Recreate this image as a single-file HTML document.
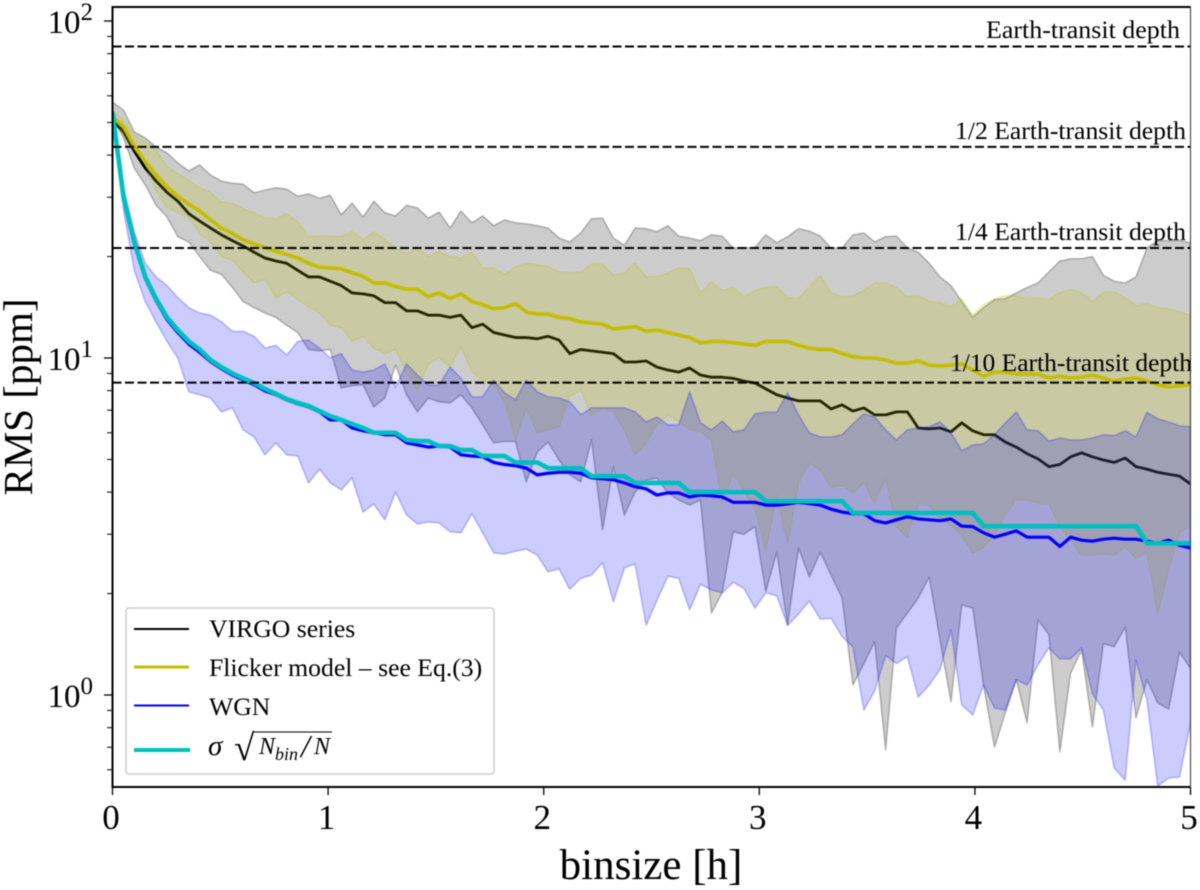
<!DOCTYPE html>
<html lang="en">
<head>
<meta charset="utf-8">
<title>RMS versus bin size</title>
<style>
  html, body { margin: 0; padding: 0; background: #fff; }
  body { width: 1200px; height: 890px; overflow: hidden; }
  svg { display: block; filter: blur(0.45px); }
  text { font-family: "Liberation Serif", "DejaVu Serif", serif; fill: #000; }
</style>
</head>
<body>
<svg id="chart" xmlns="http://www.w3.org/2000/svg" width="1200" height="890" viewBox="0 0 1200 890">
  <defs>
    <clipPath id="plot-clip"><rect x="112.5" y="7" width="1078" height="780"></rect></clipPath>
  </defs>
  <rect x="0" y="0" width="1200" height="890" fill="#fff"></rect>
  <g id="plot" clip-path="url(#plot-clip)"></g>
  <g id="refs"></g>

  <text x="986" y="38" font-size="25.3" textLength="194" lengthAdjust="spacingAndGlyphs">Earth-transit depth</text>
  <text x="955" y="139" font-size="25.3" textLength="231" lengthAdjust="spacingAndGlyphs">1/2 Earth-transit depth</text>
  <text x="955" y="240" font-size="25.3" textLength="231" lengthAdjust="spacingAndGlyphs">1/4 Earth-transit depth</text>
  <text x="950" y="371" font-size="25.3" textLength="242" lengthAdjust="spacingAndGlyphs">1/10 Earth-transit depth</text>

  <g id="axes"></g>
  <rect x="111.5" y="6" width="1079.5" height="2" fill="#000"></rect>
  <rect x="111.5" y="786" width="1079.5" height="2" fill="#000"></rect>
  <rect x="111.5" y="6" width="2" height="782" fill="#000"></rect>
  <rect x="1190" y="6" width="1" height="782" fill="#333"></rect>

  <text transform="translate(32,397) rotate(-90)" text-anchor="middle" font-size="41">RMS [ppm]</text>
  <text x="651" y="879" text-anchor="middle" font-size="43">binsize [h]</text>

  <g>
    <rect x="126" y="608" width="368" height="166" rx="3" ry="3" fill="#fff" fill-opacity="0.85" stroke="#ccc" stroke-width="1.5"></rect>
    <line x1="134" x2="189" y1="629" y2="629" stroke="#000" stroke-width="2"></line>
    <text x="209" y="637" font-size="25.7">VIRGO series</text>
    <line x1="134" x2="189" y1="667" y2="667" stroke="#bfbf00" stroke-width="3"></line>
    <text x="209" y="676" font-size="25.7">Flicker model – see Eq.(3)</text>
    <line x1="134" x2="189" y1="705.5" y2="705.5" stroke="#0000ff" stroke-width="2"></line>
    <text x="209" y="715" font-size="25.7">WGN</text>
    <line x1="134" x2="190" y1="750" y2="750" stroke="#00bfbf" stroke-width="4"></line>
    <text x="208" y="755" font-size="29" font-style="italic">σ</text>
    <text x="234" y="760" font-size="37">√</text>
    <line x1="254" x2="332" y1="732" y2="732" stroke="#000" stroke-width="1"></line>
    <text y="754" font-size="24" font-style="italic"><tspan x="259">N</tspan><tspan x="275" y="760" font-size="18">bin</tspan><tspan x="301" y="757" font-size="32">/</tspan><tspan x="314" y="754">N</tspan></text>
  </g>
</svg>

<script>
const binHours = [0,0.051,0.101,0.152,0.202,0.253,0.303,0.354,0.404,0.455,0.505,0.556,0.606,0.657,0.707,0.758,0.808,0.859,0.909,0.960,1.010,1.061,1.111,1.162,1.212,1.263,1.313,1.364,1.414,1.465,1.515,1.566,1.616,1.667,1.717,1.768,1.818,1.869,1.919,1.970,2.020,2.071,2.121,2.172,2.222,2.273,2.323,2.374,2.424,2.475,2.525,2.576,2.626,2.677,2.727,2.778,2.828,2.879,2.929,2.980,3.030,3.081,3.131,3.182,3.232,3.283,3.333,3.384,3.434,3.485,3.535,3.586,3.636,3.687,3.737,3.788,3.838,3.889,3.939,3.990,4.040,4.091,4.141,4.192,4.242,4.293,4.343,4.394,4.444,4.495,4.545,4.596,4.646,4.697,4.747,4.798,4.848,4.899,4.949,5.0];

const virgoRms = [50.9,46.9,41.1,36.6,33.5,31.0,29.2,26.8,25.5,24.3,23.2,22.3,21.5,20.6,19.8,19.4,19.1,18.2,17.4,17.4,16.9,16.4,15.6,15.5,15.3,14.6,14.6,13.8,13.8,13.4,13.4,13.2,13.4,12.3,12.6,11.9,11.7,11.5,11.5,11.4,11.6,11.3,10.3,10.6,10.5,10.4,10.3,9.73,9.73,9.8,9.4,9.21,9.08,9.34,8.9,8.77,8.77,8.7,8.54,8.43,8.1,7.78,7.61,7.46,7.46,7.46,7.06,7.26,6.96,7.11,6.78,6.78,6.92,6.92,6.2,6.16,6.2,6.04,6.42,6.08,5.92,5.92,5.63,5.44,5.2,5.02,4.76,4.83,5.09,5.23,5.09,4.98,4.9,5.05,4.76,4.68,4.58,4.52,4.46,4.23];

const virgoUpper = [57.5,54.4,46.9,45.0,42.3,40.6,37.9,35.9,37.4,34.9,33.5,33.0,32.8,30.9,31.5,32.0,31.7,30.2,30.7,29.8,30.4,26.6,28.8,26.2,29.2,27.0,26.4,28.4,27.9,26.0,27.1,24.3,27.3,25.2,26.4,24.7,25.7,25.2,25.0,24.7,24.3,22.7,22.1,23.5,25.9,26.0,22.7,21.6,24.3,24.2,23.7,24.7,23.0,22.7,22.3,23.2,23.0,21.2,21.2,21.3,23.2,22.0,22.9,24.2,23.8,23.0,21.2,21.2,23.2,23.5,22.1,22.9,23.0,21.2,20.6,19.1,17.4,16.4,14.7,13.2,14.1,14.9,15.0,15.6,16.2,16.7,18.0,19.4,19.7,19.7,20.0,17.6,16.9,16.7,17.4,21.2,22.3,22.3,22.3,22.0];

const virgoLower = [51.5,45.0,36.6,32.6,28.4,26.2,22.9,22.1,20.0,18.2,17.7,16.2,14.7,14.1,13.6,13.2,12.5,11.9,10.6,10.5,10.6,8.15,8.27,8.33,7.16,7.61,9.53,7.78,6.92,7.61,7.41,7.36,7.78,7.11,6.33,5.6,5.65,5.65,4.29,5.26,5.63,4.98,4.5,4.29,5.71,3.09,4.76,3.42,4.0,4.35,4.4,3.98,3.79,3.66,3.79,1.75,2.01,3.05,3.0,3.16,2.03,2.65,1.61,2.73,2.24,2.65,2.27,1.94,1.07,1.24,1.44,0.687,1.58,1.75,1.94,2.24,1.46,0.953,1.85,1.81,1.07,0.70,0.884,1.11,0.826,1.67,1.51,0.678,1.16,1.36,0.803,1.42,1.39,1.59,0.855,1.11,0.947,0.908,1.34,1.20];

const flickerRms = [52.0,48.5,42.6,38.2,34.9,32.2,30.2,28.6,27.3,25.7,24.3,23.4,22.4,21.8,21.3,20.7,20.3,19.8,19.1,18.6,18.5,18.4,17.9,17.5,16.7,16.7,16.3,16.0,16.0,15.2,15.6,15.0,15.5,14.7,14.4,14.0,14.1,14.5,13.7,13.5,13.5,13.2,13.1,12.8,12.7,12.6,12.2,12.3,12.4,12.0,12.1,11.9,11.7,11.5,11.1,11.2,11.2,11.1,11.0,10.9,11.2,11.2,11.2,10.9,10.7,10.6,10.6,10.3,10.1,10.0,10.0,9.86,9.66,9.66,9.8,9.53,9.47,9.53,9.6,9.21,8.83,9.08,9.08,8.96,8.96,8.96,8.72,8.83,8.72,8.77,8.9,8.72,8.54,8.66,8.72,8.54,8.33,8.21,8.27,8.33];

const flickerUpper = [53.7,50.9,46.0,43.8,41.4,36.9,35.3,33.7,32.0,31.0,29.0,28.8,27.7,27.0,26.0,25.9,26.8,25.4,22.9,23.0,23.0,22.9,23.7,22.5,23.7,22.5,21.2,20.4,21.3,20.0,20.7,20.0,19.8,20.6,18.5,18.5,17.7,18.6,19.1,18.9,18.7,18.0,17.9,18.0,19.0,19.0,17.6,17.9,19.1,17.4,17.4,17.9,18.5,18.4,15.6,16.8,15.9,16.2,15.2,15.9,16.2,16.3,15.1,15.0,16.3,17.6,15.6,15.2,15.3,15.9,16.7,16.7,16.2,15.2,15.3,14.7,14.6,14.2,15.0,13.4,14.4,15.0,15.3,15.3,15.0,15.1,14.9,15.6,16.0,15.6,14.7,15.7,15.7,15.1,14.3,14.5,14.1,14.0,13.7,13.4];

const flickerLower = [52.7,46.0,41.4,37.9,31.5,27.9,27.0,26.2,23.5,22.0,20.0,19.5,18.0,16.7,17.1,15.1,15.7,14.9,14.2,13.6,12.5,12.3,11.2,11.6,10.7,10.3,10.6,9.08,8.04,9.6,10.0,9.4,10.8,9.08,8.6,8.3,7.41,5.71,7.11,6.0,6.12,6.25,7.67,8.04,6.78,7.11,6.92,6.12,5.16,5.6,6.33,6.78,6.46,6.12,6.04,5.71,3.7,4.56,4.0,3.59,2.69,3.92,2.82,4.26,4.88,4.65,4.12,4.18,3.98,4.29,3.7,4.41,3.16,2.94,3.7,3.66,3.31,3.19,2.98,2.64,2.75,2.98,3.42,3.79,3.79,3.7,3.7,3.16,2.88,2.6,2.6,2.62,2.6,2.75,2.55,2.65,1.75,2.35,3.03,3.19];

const wgnRms = [53.7,29.7,21.8,17.2,14.8,13.0,11.9,11.0,10.4,9.75,9.3,8.9,8.6,8.33,7.99,7.78,7.51,7.31,7.16,6.92,6.55,6.55,6.2,6.08,6.0,5.92,5.92,5.6,5.52,5.44,5.48,5.44,5.16,5.12,5.09,4.9,4.83,4.79,4.71,4.5,4.55,4.58,4.58,4.55,4.41,4.38,4.35,4.26,4.15,4.09,3.92,3.98,3.98,3.87,3.92,3.9,3.87,3.73,3.73,3.73,3.66,3.66,3.69,3.73,3.7,3.66,3.56,3.49,3.45,3.45,3.29,3.24,3.31,3.38,3.33,3.31,3.29,3.33,3.17,3.16,3.03,2.94,3.0,3.07,2.94,2.94,2.94,2.76,2.94,2.88,2.86,2.9,2.92,2.9,2.9,2.86,2.82,2.88,2.78,2.73];

const wgnUpper = [53.7,32.2,23.7,19.1,17.4,16.4,15.1,14.1,13.6,13.4,12.8,12.0,12.0,11.6,10.7,10.9,10.2,11.2,11.3,10.7,10.0,10.3,9.21,9.08,9.21,9.6,8.2,9.6,8.9,8.3,8.3,9.4,8.7,7.67,7.67,8.6,7.88,7.51,8.6,7.94,7.67,7.61,7.41,6.78,7.11,7.11,7.11,7.11,6.92,6.46,6.68,6.33,6.33,7.94,6.42,6.12,6.5,6.04,6.12,6.83,6.9,6.9,7.88,6.78,6.0,5.83,5.83,5.92,6.37,6.83,6.68,6.12,5.71,6.12,6.2,6.25,6.46,6.0,5.3,5.52,5.56,5.92,6.42,6.92,6.12,6.08,5.67,5.79,5.71,5.71,5.79,5.92,5.88,6.08,5.83,6.9,6.6,6.46,6.29,6.25];

const wgnLower = [52.7,27.5,18.2,14.7,12.8,11.2,10.0,7.94,7.78,7.61,6.92,7.11,6.12,5.83,5.16,5.6,5.16,5.12,4.26,4.68,4.26,4.06,4.41,3.49,3.69,3.31,4.0,3.42,3.22,3.26,3.24,3.05,3.03,3.45,3.03,2.64,2.62,2.67,2.71,2.6,2.32,2.37,2.06,2.22,2.27,2.47,1.89,2.38,2.45,1.61,1.91,2.25,2.22,1.79,2.13,2.05,2.01,2.16,2.07,1.81,2.01,1.97,1.61,1.74,1.9,1.68,1.69,1.49,1.39,0.902,1.03,1.31,1.24,1.3,0.986,1.07,1.19,1.56,0.934,0.872,1.07,0.915,0.902,1.11,1.07,1.23,1.38,1.28,1.28,1.38,1.01,0.902,0.607,0.559,1.27,0.966,0.537,0.567,0.571,0.826];

const sigmaRms = [53.7,30.0,22.1,17.4,15.0,13.2,12.1,11.2,10.6,9.86,9.4,9.0,8.7,8.43,8.1,7.83,7.56,7.36,7.21,6.96,6.72,6.55,6.37,6.2,6.0,6.0,6.0,5.71,5.67,5.67,5.48,5.48,5.33,5.33,5.12,5.12,5.12,4.9,4.9,4.9,4.71,4.71,4.71,4.71,4.46,4.46,4.46,4.46,4.26,4.26,4.26,4.26,4.26,4.0,4.0,4.0,4.0,4.0,4.0,4.0,3.76,3.76,3.76,3.76,3.76,3.76,3.76,3.76,3.47,3.47,3.47,3.47,3.47,3.47,3.47,3.47,3.47,3.47,3.47,3.47,3.17,3.17,3.17,3.17,3.17,3.17,3.17,3.17,3.17,3.17,3.17,3.17,3.17,3.17,3.17,2.82,2.82,2.82,2.82,2.82];

const referenceDepths = [84, 42.3, 21.2, 8.45];
const xTickValues = [0, 1, 2, 3, 4, 5];
const yTickExponents = [0, 1, 2];
const yMinorFactors = [2, 3, 4, 5, 6, 7, 8, 9];
const yMinorDecades = [0.1, 1, 10];

const NS = 'http://www.w3.org/2000/svg';
const xAt = function (h) { return 112.5 + h * 215.6; };
const yAt = function (v) { return 695 - 337 * Math.log10(v); };

function linePath(xs, ys) {
  return xs.map(function (x, i) {
    return (i === 0 ? 'M' : 'L') + xAt(x).toFixed(2) + ' ' + yAt(ys[i]).toFixed(2);
  }).join(' ');
}
function bandPath(xs, upper, lower) {
  let d = linePath(xs, upper);
  for (let i = xs.length - 1; i >= 0; i--) {
    d += ' L' + xAt(xs[i]).toFixed(2) + ' ' + yAt(lower[i]).toFixed(2);
  }
  return d + ' Z';
}

const plot = document.getElementById('plot');

function drawBand(upper, lower, color, name) {
  const el = document.createElementNS(NS, 'path');
  el.setAttribute('d', bandPath(binHours, upper, lower));
  el.setAttribute('fill', color);
  el.setAttribute('fill-opacity', '0.2');
  el.setAttribute('stroke', color);
  el.setAttribute('stroke-opacity', '0.25');
  el.setAttribute('stroke-width', '1.5');
  el.setAttribute('stroke-linejoin', 'round');
  
  
  plot.appendChild(el);
}
function drawLine(values, color, width, name) {
  const el = document.createElementNS(NS, 'path');
  el.setAttribute('d', linePath(binHours, values));
  el.setAttribute('fill', 'none');
  el.setAttribute('stroke', color);
  el.setAttribute('stroke-width', width);
  el.setAttribute('stroke-linejoin', 'round');
  
  
  plot.appendChild(el);
}

drawBand(virgoUpper, virgoLower, '#000000', 'virgo-band');
drawLine(virgoRms, '#000000', 2.8, 'virgo-line');
drawBand(flickerUpper, flickerLower, '#bfbf00', 'flicker-band');
drawLine(flickerRms, '#c4bd00', 3.6, 'flicker-line');
drawBand(wgnUpper, wgnLower, '#0000ff', 'wgn-band');
drawLine(wgnRms, '#0000ff', 3.2, 'wgn-line');
drawLine(sigmaRms, '#00bfbf', 4.6, 'sigma-line');

const refs = document.getElementById('refs');
referenceDepths.forEach(function (depth) {
  const el = document.createElementNS(NS, 'line');
  el.setAttribute('x1', 112.5);
  el.setAttribute('x2', 1190.5);
  el.setAttribute('y1', yAt(depth));
  el.setAttribute('y2', yAt(depth));
  el.setAttribute('stroke', '#000');
  el.setAttribute('stroke-width', '2');
  el.setAttribute('stroke-dasharray', '9 3.5');
  
  
  refs.appendChild(el);
});

const axes = document.getElementById('axes');
function tick(x1, y1, x2, y2, w) {
  const el = document.createElementNS(NS, 'line');
  el.setAttribute('x1', x1);
  el.setAttribute('y1', y1);
  el.setAttribute('x2', x2);
  el.setAttribute('y2', y2);
  el.setAttribute('stroke', '#000');
  el.setAttribute('stroke-width', w);
  
  
  axes.appendChild(el);
}

xTickValues.forEach(function (v) {
  tick(xAt(v), 787, xAt(v), 795, 1.3);
  const label = document.createElementNS(NS, 'text');
  label.setAttribute('x', xAt(v) - 1.5);
  label.setAttribute('y', 829);
  label.setAttribute('text-anchor', 'middle');
  label.setAttribute('font-size', '35');
  
  
  label.textContent = String(v);
  axes.appendChild(label);
});

yTickExponents.forEach(function (e) {
  const y = yAt(Math.pow(10, e));
  tick(104, y, 112, y, 1.3);
  const label = document.createElementNS(NS, 'text');
  label.setAttribute('x', 93);
  label.setAttribute('y', y + 12);
  label.setAttribute('text-anchor', 'end');
  label.setAttribute('font-size', '33');
  
  
  label.textContent = '10';
  const sup = document.createElementNS(NS, 'tspan');
  sup.setAttribute('font-size', '25');
  sup.setAttribute('dy', '-13');
  sup.textContent = String(e);
  label.appendChild(sup);
  axes.appendChild(label);
});

yMinorDecades.forEach(function (d) {
  yMinorFactors.forEach(function (f) {
    const v = d * f;
    if (v > 0.53 && v < 110) {
      tick(107, yAt(v), 112, yAt(v), 1);
    }
  });
});
</script>
</body>
</html>
